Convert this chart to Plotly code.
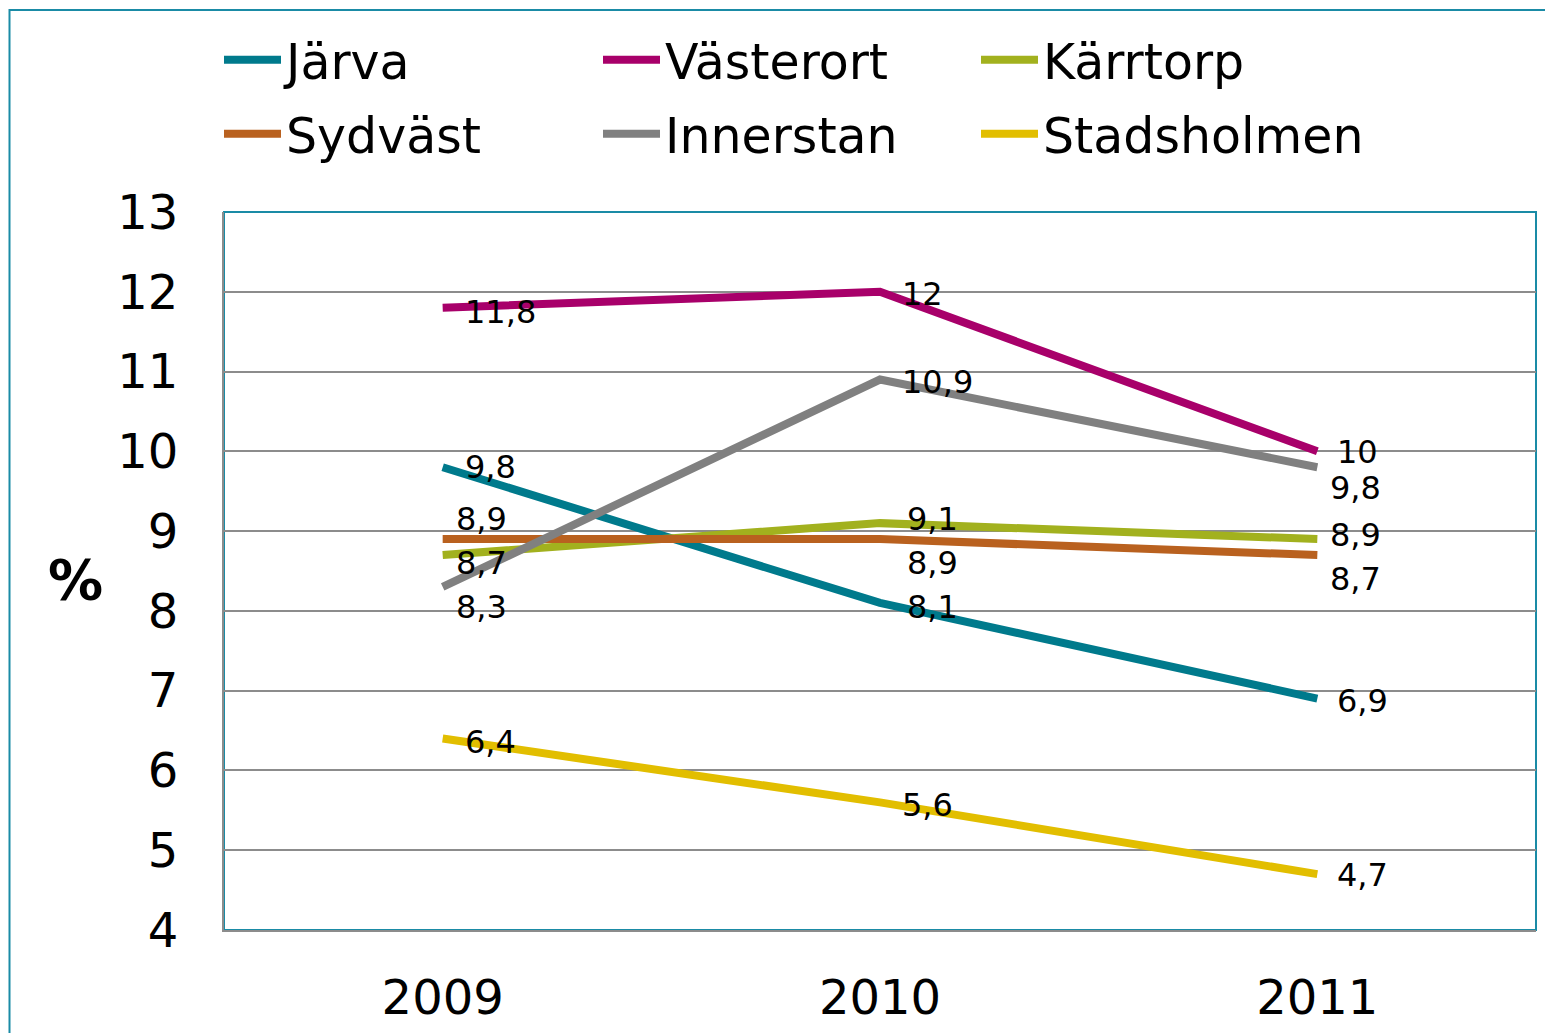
"""
Andel per stadsdel 2009-2011 (%), linjediagram
"""

import plotly.graph_objects as go

years = ["2009", "2010", "2011"]

jarva = [9.8, 8.1, 6.9]
vasterort = [11.8, 12.0, 10.0]
karrtorp = [8.7, 9.1, 8.9]
sydvast = [8.9, 8.9, 8.7]
innerstan = [8.3, 10.9, 9.8]
stadsholmen = [6.4, 5.6, 4.7]

series_names = ["Järva", "Västerort", "Kärrtorp", "Sydväst", "Innerstan", "Stadsholmen"]
series_values = [jarva, vasterort, karrtorp, sydvast, innerstan, stadsholmen]
colors = ["#007A8C", "#A8006A", "#A2B11E", "#B9611F", "#808080", "#E2BE00"]

# label offsets in pixels (dx from point to left edge of text, dy upward)
label_offsets = [
    [(20, 0), (25, -4), (18, -2)],
    [(20, -4), (20, -2), (18, -1)],
    [(11, -8), (25, 4), (11, 4)],
    [(11, 20), (25, -24), (11, -24)],
    [(11, -20), (20, -2), (11, -21)],
    [(20, -3), (20, -3), (18, -1)],
]

FONT = "DejaVu Sans"
TEAL = "#1A8BA6"
GRID = "#8C8C8C"
PLOT_W, PLOT_H = 1312, 718

# legend grid: 3 columns x 2 rows (pixel offsets from plot area left / top)
legend_cols = [-5, 374, 752]
legend_rows = [152, 78]

fig = go.Figure()

legend_layout = {}
for k, (name, vals, col) in enumerate(zip(series_names, series_values, colors)):
    key = "legend" if k == 0 else "legend%d" % (k + 1)
    fig.add_trace(go.Scatter(x=years, y=vals, name=name, mode="lines", legend=key,
                             line=dict(color=col, width=8)))
    legend_layout[key] = dict(
        x=legend_cols[k % 3] / PLOT_W, y=1 + legend_rows[k // 3] / PLOT_H,
        xanchor="left", yanchor="middle", orientation="h", itemwidth=57,
        font=dict(family=FONT, size=49, color="black"), bgcolor="rgba(0,0,0,0)")

annotations = []
for vals, offs in zip(series_values, label_offsets):
    for i, (v, (dx, dy)) in enumerate(zip(vals, offs)):
        txt = ("%g" % v).replace(".", ",")
        annotations.append(dict(x=i, y=v, xref="x", yref="y", text=txt,
                                showarrow=False, xanchor="left", yanchor="middle",
                                xshift=dx, yshift=dy,
                                font=dict(family=FONT, size=32, color="black")))

annotations.append(dict(x=-148.5 / PLOT_W, y=350 / PLOT_H, xref="paper", yref="paper",
                        text="<b>%</b>", showarrow=False,
                        xanchor="center", yanchor="middle",
                        font=dict(family=FONT, size=55, color="black")))

fig.update_layout(
    width=1545, height=1025,
    margin=dict(l=216, r=17, t=204, b=103, autoexpand=False),
    paper_bgcolor="white", plot_bgcolor="white",
    font=dict(family=FONT, color="black"),
    showlegend=True,
    annotations=annotations,
    shapes=[
        dict(type="rect", xref="paper", yref="paper", x0=0, x1=1, y0=0, y1=1,
             line=dict(color=TEAL, width=2), layer="below"),
        dict(type="rect", xref="paper", yref="paper", x0=-214.5 / PLOT_W, x1=1.1,
             y0=-0.3, y1=920 / PLOT_H, line=dict(color=TEAL, width=2), layer="below"),
    ],
    **legend_layout,
)

fig.update_xaxes(type="category", range=[-0.5, 2.5], showgrid=False, automargin=False,
                 showline=True, linecolor=GRID, linewidth=2, ticks="",
                 ticklabelstandoff=24, tickfont=dict(family=FONT, size=48))
fig.update_yaxes(range=[4, 13], dtick=1, showgrid=True, gridcolor=GRID, gridwidth=1.5,
                 showline=True, linecolor=GRID, linewidth=2, ticks="", zeroline=False,
                 automargin=False,
                 ticklabelstandoff=34, tickfont=dict(family=FONT, size=48))

fig.write_html("out.html")
